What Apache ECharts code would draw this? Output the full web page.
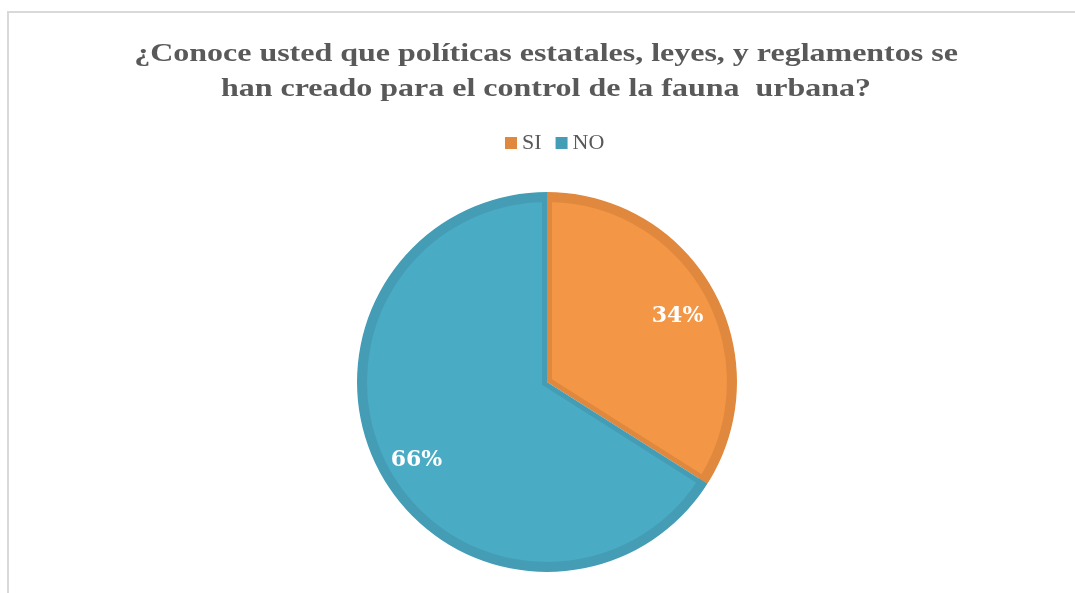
<!DOCTYPE html>
<html>
<head>
<meta charset="utf-8">
<title>Fauna urbana</title>
<script src="https://cdn.jsdelivr.net/npm/echarts@6/dist/echarts.min.js"></script>
<style>
  html, body { margin: 0; padding: 0; background: #fff; overflow: hidden; }
  #chart {
    position: absolute; left: 7px; top: 11px; width: 1078px; height: 600px;
    border-top: 2px solid #d9d9d9; border-left: 2px solid #d9d9d9;
  }
</style>
</head>
<body>
<div id="chart"></div>
<script>
  // datos de la encuesta
  var categories = ['SI', 'NO'];
  var values = [34, 66];
  var titleText = '¿Conoce usted que políticas estatales, leyes, y reglamentos se\nhan creado para el control de la fauna  urbana?';

  var fillColors = ['#F39645', '#4AABC5'];
  var edgeColors = ['#E0883E', '#459DB5'];

  var cx = 538, cy = 369;
  var outerR = 190, edgeW = 10;
  var total = values.reduce(function (a, b) { return a + b; }, 0);

  var myChart = echarts.init(document.getElementById('chart'));

  // cada sector relleno se desplaza un poco hacia dentro para dejar ver el borde
  function innerCenter(idx) {
    var cum = 0;
    for (var i = 0; i < idx; i++) cum += values[i];
    var frac = values[idx] / total;
    var mid = (90 - 360 * cum / total - 180 * frac) * Math.PI / 180;
    var d = (edgeW / 2) / Math.sin(Math.PI * frac);
    return [cx + d * Math.cos(mid), cy - d * Math.sin(mid)];
  }

  function sliceData(which, colors) {
    return categories.map(function (c, i) {
      return {
        name: c,
        value: values[i],
        itemStyle: { color: (which < 0 || i === which) ? colors[i] : 'rgba(0,0,0,0)' }
      };
    });
  }

  var base = {
    type: 'pie',
    startAngle: 90,
    silent: true,
    animation: false,
    label: { show: false },
    labelLine: { show: false },
    emphasis: { disabled: true }
  };

  var series = [];
  // fondo con color de borde
  series.push(Object.assign({}, base, {
    z: 1, center: [cx, cy], radius: outerR, data: sliceData(-1, edgeColors)
  }));
  // rellenos
  categories.forEach(function (c, i) {
    series.push(Object.assign({}, base, {
      z: 2, center: innerCenter(i), radius: outerR + 12, data: sliceData(i, fillColors)
    }));
  });
  // anillo del borde exterior
  series.push(Object.assign({}, base, {
    z: 3, center: [cx, cy], radius: [outerR - edgeW, outerR], data: sliceData(-1, edgeColors)
  }));
  // mascara blanca
  series.push(Object.assign({}, base, {
    z: 4, center: [cx, cy], radius: [outerR, outerR + 25],
    data: [{ name: 'mask', value: 1, itemStyle: { color: '#fff' } }]
  }));
  // etiquetas de porcentaje
  series.push(Object.assign({}, base, {
    z: 5, center: [cx, cy], radius: [122, 170],
    data: sliceData(-2, fillColors).map(function (d) {
      d.itemStyle = { color: 'rgba(0,0,0,0)' };
      return d;
    }),
    label: {
      show: true,
      position: 'inside',
      offset: [0, 6],
      formatter: '{d}%',
      color: '#fff',
      fontFamily: 'DejaVu Serif',
      fontWeight: 'bold',
      fontSize: 22
    }
  }));

  myChart.setOption({
    backgroundColor: '#fff',
    animation: false,
    graphic: [{
      type: 'text',
      x: 537,
      y: 24,
      scaleX: 1.23,
      silent: true,
      style: {
        text: titleText,
        textAlign: 'center',
        textVerticalAlign: 'top',
        fontFamily: 'Liberation Serif',
        fontWeight: 'bold',
        fontSize: 26,
        lineHeight: 35,
        fill: '#595959'
      }
    }],
    legend: {
      top: 114,
      left: 491,
      icon: 'rect',
      itemWidth: 12,
      itemHeight: 12,
      itemGap: 14,
      selectedMode: false,
      textStyle: { fontFamily: 'Liberation Serif', fontSize: 22, color: '#595959' },
      data: categories.map(function (c, i) {
        return { name: c, itemStyle: { color: edgeColors[i] } };
      })
    },
    series: series
  });
</script>
</body>
</html>
